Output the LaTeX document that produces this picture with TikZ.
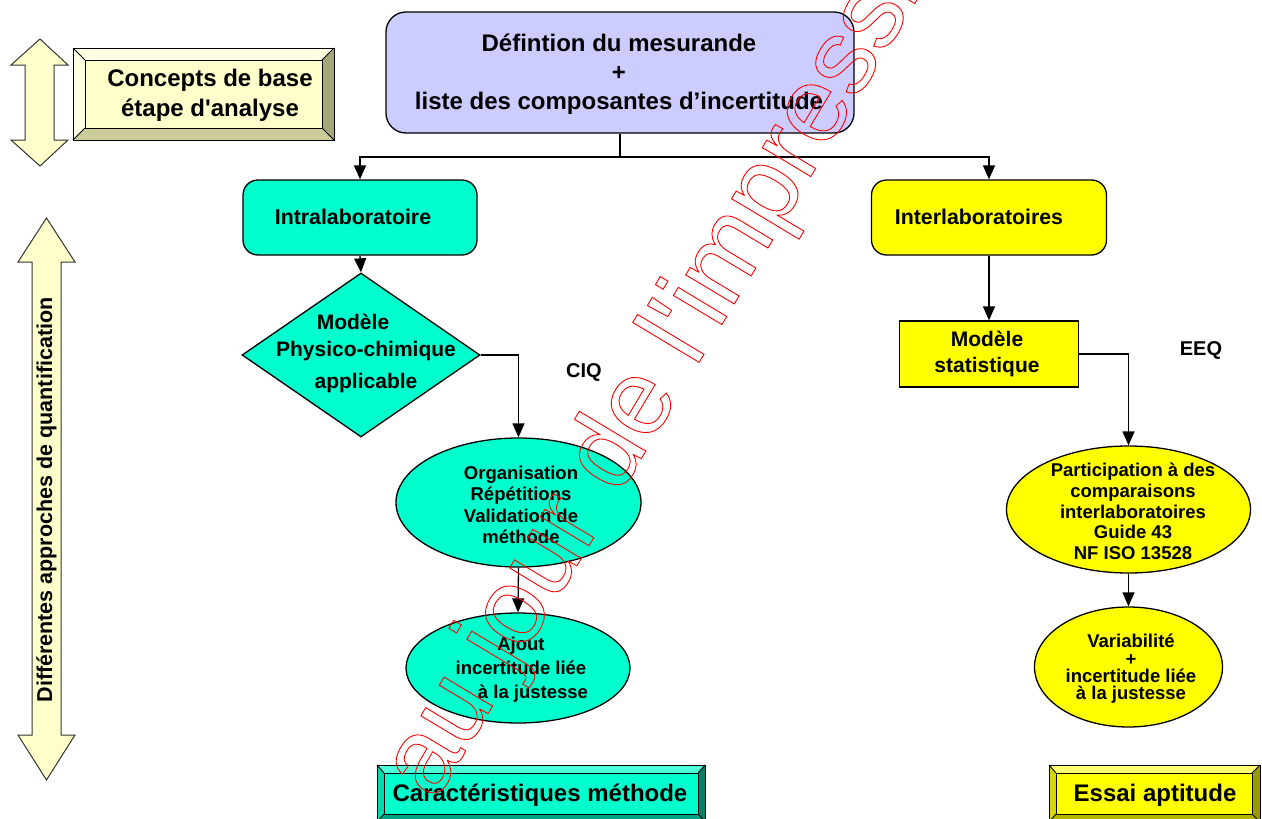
\documentclass[tikz,border=0pt]{standalone}
\usepackage{fontspec}
\setmainfont{Liberation Sans}[Ligatures=TeXOff]
\usetikzlibrary{arrows.meta,shapes.geometric}
\definecolor{lav}{HTML}{CCCCFF}
\definecolor{aqua}{HTML}{00FFCC}
\definecolor{yel}{HTML}{FFFF00}
\definecolor{cream}{HTML}{FFFFCC}
\definecolor{creamtop}{HTML}{FFFFE2}
\definecolor{creamright}{HTML}{A6A67A}
\definecolor{creambot}{HTML}{CCCC99}
\definecolor{aquatop}{HTML}{4DFFDB}
\definecolor{aqualeft}{HTML}{00D9AD}
\definecolor{aquaright}{HTML}{008066}
\definecolor{aquabot}{HTML}{00A383}
\definecolor{yeltop}{HTML}{FFFF70}
\definecolor{yelleft}{HTML}{D6D600}
\definecolor{yelright}{HTML}{999900}
\definecolor{yelbot}{HTML}{B3B300}
\newcommand\fs[2]{\fontsize{#1}{#2}\selectfont\bfseries\lineskiplimit=-60pt\relax}
\begin{document}
\begin{tikzpicture}[x=1pt,y=-1pt,
  bord/.style={draw=black, line width=1.3pt},
  conn/.style={line width=1.3pt},
  arr/.style={conn,-{Triangle[length=14pt,width=12pt]}},
  txt/.style={inner sep=0pt, align=center},
  shapebox/.style={bord, inner sep=0pt},
  bev/.style={draw=black, line width=0.9pt, line join=miter},
  dbl/.style={draw=black!80, line width=1pt, fill=cream, line join=miter},
]
\useasboundingbox (0,0) rectangle (1262,819);
\clip (0,0) rectangle (1262,819);

% ---------- left double arrows ----------
\path[dbl] (40,39) -- (68,65) -- (54,65) -- (54,140) -- (68,140) -- (40,166)
  -- (11,140) -- (25,140) -- (25,65) -- (11,65) -- cycle;
\path[dbl] (46.5,218) -- (75,262) -- (61,262) -- (61,735) -- (75,735) -- (46.5,780)
  -- (18,735) -- (32,735) -- (32,262) -- (18,262) -- cycle;
\node[txt, rotate=90, font=\fs{21.5}{26}] (quant) at (46.5,500) {Différentes approches de quantification};

% ---------- Concepts bevel box ----------
\fill[cream] (85,60) rectangle (322,128);
\fill[creamtop] (73,48) -- (334,48) -- (322,60) -- (85,60) -- cycle;
\fill[creamtop] (73,48) -- (85,60) -- (85,128) -- (73,140) -- cycle;
\fill[creamright] (334,48) -- (334,140) -- (322,128) -- (322,60) -- cycle;
\fill[creambot] (73,140) -- (334,140) -- (322,128) -- (85,128) -- cycle;
\draw[bev] (73,48) rectangle (334,140);
\draw[bev] (85,60) rectangle (322,128);
\draw[bev] (73,48) -- (85,60) (334,48) -- (322,60) (334,140) -- (322,128) (73,140) -- (85,128);
\node[txt, font=\fs{24}{30}] (concepts) at (210,95) {Concepts de base\\étape d'analyse};

% ---------- main box ----------
\node[shapebox, fill=lav, rounded corners=20pt, minimum width=468pt, minimum height=121pt] (def) at (620,72.5) {};
\node[txt, font=\fs{24}{29}] (defT) at (619,74) {Défintion du mesurande\\+\\liste des composantes d’incertitude};

% ---------- intra branch ----------
\node[shapebox, fill=aqua, rounded corners=15pt, minimum width=234pt, minimum height=75pt] (intra) at (360,217.5) {};
\node[txt, font=\fs{21.3}{26}] (intraT) at (353,217) {Intralaboratoire};

\node[shapebox, fill=aqua, diamond, minimum width=238pt, minimum height=164pt] (diam) at (361,355) {};
\node[txt, font=\fs{21}{27}] (diamT) at (366,353) {Modèle\hspace*{26pt}\\Physico-chimique\\[5pt]applicable};

\node[txt, font=\fs{20}{24}] (ciq) at (584,372) {CIQ};

\node[shapebox, fill=aqua, ellipse, minimum width=245pt, minimum height=129pt] (ell1) at (518.5,502.5) {};
\node[txt, font=\fs{18.5}{21.5}] (ell1T) at (521,505) {Organisation\\Répétitions\\Validation de\\méthode};

\node[shapebox, fill=aqua, ellipse, minimum width=224pt, minimum height=110pt] (ell2) at (518,668) {};
\node[txt, font=\fs{18.5}{24}] (ell2T) at (521,670) {Ajout\\incertitude liée\hspace*{9pt}\\\hspace*{24pt}à la justesse};

% ---------- inter branch ----------
\node[shapebox, fill=yel, rounded corners=15pt, minimum width=235pt, minimum height=75pt] (inter) at (989,217.5) {};
\node[txt, font=\fs{21.3}{26}] (interT) at (979,217) {Interlaboratoires};

\node[shapebox, fill=yel, minimum width=179pt, minimum height=66pt] (stat) at (989,354) {};
\node[txt, font=\fs{21}{26}] (statT) at (987,354) {Modèle\\statistique};

\node[txt, font=\fs{20}{24}] (eeq) at (1201,350) {EEQ};

\node[shapebox, fill=yel, ellipse, minimum width=244pt, minimum height=127pt] (ell3) at (1128.5,509.5) {};
\node[txt, font=\fs{18.5}{20.8}] (ell3T) at (1133,511.5) {Participation à des\\comparaisons\\interlaboratoires\\Guide 43\\NF ISO 13528};

\node[shapebox, fill=yel, ellipse, minimum width=188pt, minimum height=120pt] (ell4) at (1128.5,667) {};
\node[txt, font=\fs{18.5}{17.3}] (ell4T) at (1131,669) {Variabilité\\+\\incertitude liée\\à la justesse};

% ---------- connectors ----------
\coordinate (split) at (620,157);
\draw[conn] (def.south) -- (split);
\draw[arr] (split) -| (intra.north);
\draw[arr] (split) -| (inter.north);
\draw[arr] (intra.south) -- (diam.north);
\draw[arr] (diam.east) -| (ell1.north);
\draw[arr] (ell1.south) -- (ell2.north);
\draw[arr] (inter.south) -- (stat.north);
\draw[arr] (stat.east) -| (ell3.north);
\draw[arr] (ell3.south) -- (ell4.north);

% ---------- bottom bevel boxes ----------
\fill[aqua] (384,773) rectangle (698,814);
\fill[aquatop] (377,765) -- (705,765) -- (698,773) -- (384,773) -- cycle;
\fill[aqualeft] (377,765) -- (384,773) -- (384,814) -- (377,822) -- cycle;
\fill[aquaright] (705,765) -- (705,822) -- (698,814) -- (698,773) -- cycle;
\fill[aquabot] (377,822) -- (705,822) -- (698,814) -- (384,814) -- cycle;
\draw[bev] (377,765) rectangle (705,822);
\draw[bev] (384,773) rectangle (698,814);
\draw[bev] (377,765) -- (384,773) (705,765) -- (698,773) (705,822) -- (698,814) (377,822) -- (384,814);
\node[txt, font=\fs{24}{28}] (caract) at (540,795) {Caractéristiques méthode};

\fill[yel] (1056,773) rectangle (1252,814);
\fill[yeltop] (1049,765) -- (1260,765) -- (1252,773) -- (1056,773) -- cycle;
\fill[yelleft] (1049,765) -- (1056,773) -- (1056,814) -- (1049,822) -- cycle;
\fill[yelright] (1260,765) -- (1260,822) -- (1252,814) -- (1252,773) -- cycle;
\fill[yelbot] (1049,822) -- (1260,822) -- (1252,814) -- (1056,814) -- cycle;
\draw[bev] (1049,765) rectangle (1260,822);
\draw[bev] (1056,773) rectangle (1252,814);
\draw[bev] (1049,765) -- (1056,773) (1260,765) -- (1252,773) (1260,822) -- (1252,814) (1049,822) -- (1056,814);
\node[txt, font=\fs{24}{28}] (essai) at (1155,795) {Essai aptitude};

% ---------- watermark (outlined red text) ----------
\node[inner sep=0pt, anchor=base west, rotate=59, text=red,
  font=\fontsize{107}{107}\selectfont] (wm) at (435,802)
  {\special{pdf:literal direct 1 Tr 0.9 w}au jour de l'impression\special{pdf:literal direct 0 Tr}};
\end{tikzpicture}
\end{document}
